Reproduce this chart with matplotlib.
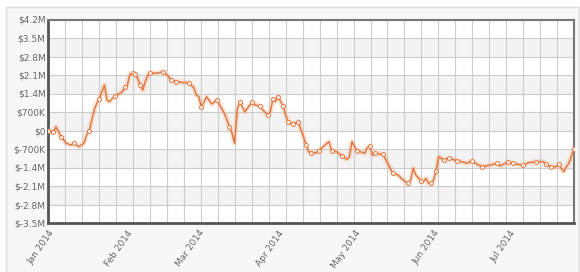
import matplotlib
matplotlib.use("Agg")
import matplotlib.pyplot as plt
import matplotlib.dates as mdates
from matplotlib.patches import Rectangle
import numpy as np
import pandas as pd

# ---- data (values in $M) ----
dates = ["2014-01-01", "2014-01-03", "2014-01-04", "2014-01-06", "2014-01-08", "2014-01-10",
         "2014-01-11", "2014-01-13", "2014-01-15", "2014-01-16", "2014-01-17", "2014-01-19",
         "2014-01-20", "2014-01-21", "2014-01-22", "2014-01-23", "2014-01-24", "2014-01-25",
         "2014-01-27", "2014-01-28", "2014-01-30", "2014-01-31", "2014-02-01", "2014-02-02",
         "2014-02-03", "2014-02-04", "2014-02-05", "2014-02-06", "2014-02-07", "2014-02-08",
         "2014-02-09", "2014-02-10", "2014-02-12", "2014-02-15", "2014-02-17", "2014-02-18",
         "2014-02-20", "2014-02-23", "2014-02-25", "2014-02-27", "2014-02-28", "2014-03-01",
         "2014-03-02", "2014-03-04", "2014-03-05", "2014-03-06", "2014-03-08", "2014-03-09",
         "2014-03-11", "2014-03-13", "2014-03-14", "2014-03-15", "2014-03-16", "2014-03-17",
         "2014-03-18", "2014-03-19", "2014-03-21", "2014-03-22", "2014-03-23", "2014-03-25",
         "2014-03-26", "2014-03-28", "2014-03-29", "2014-03-30", "2014-03-31", "2014-04-01",
         "2014-04-03", "2014-04-04", "2014-04-05", "2014-04-07", "2014-04-09", "2014-04-10",
         "2014-04-11", "2014-04-12", "2014-04-13", "2014-04-14", "2014-04-16", "2014-04-17",
         "2014-04-19", "2014-04-21", "2014-04-22", "2014-04-24", "2014-04-26", "2014-04-28",
         "2014-04-29", "2014-04-30", "2014-05-01", "2014-05-02", "2014-05-03", "2014-05-05",
         "2014-05-06", "2014-05-07", "2014-05-08", "2014-05-09", "2014-05-12", "2014-05-13",
         "2014-05-14", "2014-05-16", "2014-05-18", "2014-05-20", "2014-05-22", "2014-05-23",
         "2014-05-24", "2014-05-25", "2014-05-27", "2014-05-28", "2014-05-29", "2014-05-30",
         "2014-05-31", "2014-06-01", "2014-06-02", "2014-06-03", "2014-06-05", "2014-06-07",
         "2014-06-10", "2014-06-12", "2014-06-14", "2014-06-16", "2014-06-18", "2014-06-20",
         "2014-06-23", "2014-06-26", "2014-06-27", "2014-06-30", "2014-07-02", "2014-07-04",
         "2014-07-06", "2014-07-08", "2014-07-11", "2014-07-14", "2014-07-15", "2014-07-17",
         "2014-07-19", "2014-07-20", "2014-07-21", "2014-07-22", "2014-07-23", "2014-07-24",
         "2014-07-26"]

values = [0.00, -0.05, 0.14, -0.23, -0.48, -0.55,
          -0.48, -0.61, -0.48, -0.17, -0.02, 0.78,
          1.03, 1.18, 1.47, 1.72, 1.15, 1.09,
          1.31, 1.34, 1.47, 1.63, 1.72, 2.14,
          2.16, 2.14, 1.98, 1.72, 1.53, 1.85,
          2.10, 2.19, 2.16, 2.22, 2.06, 1.91,
          1.85, 1.81, 1.81, 1.63, 1.34, 1.28,
          0.88, 1.28, 1.15, 1.00, 1.15, 1.00,
          0.65, 0.14, -0.11, -0.48, 0.78, 1.09,
          0.90, 0.71, 0.96, 1.09, 0.96, 0.93,
          0.78, 0.59, 0.71, 1.18, 1.09, 1.28,
          0.93, 0.59, 0.33, 0.25, 0.33, 0.02,
          -0.23, -0.55, -0.80, -0.84, -0.84, -0.76,
          -0.59, -0.42, -0.76, -0.80, -0.96, -1.09,
          -0.99, -0.42, -0.61, -0.76, -0.80, -0.86,
          -0.65, -0.58, -0.93, -0.86, -0.90, -1.05,
          -1.24, -1.62, -1.68, -1.87, -2.00, -1.87,
          -1.43, -1.68, -1.90, -1.94, -1.81, -2.00,
          -2.00, -1.87, -1.52, -0.99, -1.12, -1.05,
          -1.14, -1.18, -1.24, -1.15, -1.28, -1.37,
          -1.31, -1.24, -1.34, -1.20, -1.24, -1.28,
          -1.32, -1.22, -1.18, -1.18, -1.28, -1.37,
          -1.37, -1.28, -1.43, -1.56, -1.37, -1.24,
          -0.70]

marked = [1, 1, 0, 1, 0, 0,
          1, 0, 0, 0, 1, 0,
          0, 1, 0, 0, 0, 0,
          1, 0, 0, 1, 0, 0,
          1, 1, 0, 1, 0, 0,
          0, 1, 0, 1, 0, 1,
          1, 0, 1, 0, 0, 0,
          1, 0, 0, 0, 1, 0,
          0, 1, 0, 0, 0, 1,
          0, 0, 0, 1, 0, 1,
          0, 1, 0, 1, 0, 1,
          1, 0, 1, 1, 1, 0,
          0, 1, 0, 1, 0, 1,
          0, 0, 1, 0, 1, 0,
          0, 0, 0, 1, 0, 0,
          0, 1, 0, 1, 1, 0,
          0, 1, 0, 0, 1, 0,
          0, 0, 1, 0, 0, 0,
          1, 0, 1, 0, 1, 1,
          1, 0, 0, 1, 0, 1,
          0, 1, 0, 1, 1, 0,
          1, 0, 1, 0, 1, 1,
          0, 1, 0, 0, 0, 0,
          1]

y_ticks = [4.2, 3.5, 2.8, 2.1, 1.4, 0.7, 0.0, -0.7, -1.4, -2.1, -2.8, -3.5]
y_labels = ["$4.2M", "$3.5M", "$2.8M", "$2.1M", "$1.4M", "$700K", "$0",
            "$-700K", "$-1.4M", "$-2.1M", "$-2.8M", "$-3.5M"]
x_start, x_end = "2014-01-01", "2014-07-26"
month_ticks = ["2014-01-01", "2014-02-01", "2014-03-01", "2014-04-01",
               "2014-05-01", "2014-06-01", "2014-07-01"]
month_labels = ["Jan 2014", "Feb 2014", "Mar 2014", "Apr 2014",
                "May 2014", "Jun 2014", "Jul 2014"]

# ---- figure ----
fig = plt.figure(figsize=(5.8, 2.72), dpi=100, facecolor="white")
bg = Rectangle((6 / 580, -0.05), 573 / 580, 1.05 - 7 / 272,
               transform=fig.transFigure, facecolor="#f7f7f7",
               edgecolor="#dcdcdc", lw=1.0, zorder=-10)
fig.add_artist(bg)

ax = fig.add_axes([48.3 / 580, 1 - 223 / 272, (574 - 48.3) / 580, (223 - 19.5) / 272])
ax.set_zorder(1)
ax.set_facecolor("white")

x = pd.to_datetime(dates)
xs = mdates.date2num(pd.to_datetime(x_start))
xe = mdates.date2num(pd.to_datetime(x_end))
ax.set_xlim(xs, xe)
ax.set_ylim(y_ticks[-1], y_ticks[0])

# alternating bands
for i in range(1, len(y_ticks) - 1, 2):
    ax.axhspan(y_ticks[i + 1], y_ticks[i], color="#f3f3f3", lw=0, zorder=0)

# grid
ax.set_yticks(y_ticks)
ax.set_yticklabels(y_labels)
ax.set_xticks(mdates.date2num(pd.to_datetime(month_ticks)))
ax.set_xticklabels(month_labels, rotation=55, ha="right", va="top",
                   rotation_mode="anchor")
ax.set_xticks(np.linspace(xs, xe, 32), minor=True)
ax.grid(False)
ax.grid(True, which="minor", axis="x", color="#cccccc", lw=0.8, zorder=1)
ax.grid(True, which="major", axis="y", color="#cccccc", lw=0.8, zorder=1)
ax.set_axisbelow(True)
ax.tick_params(axis="both", which="both", length=0, labelsize=6.5, labelcolor="#666666")
ax.tick_params(axis="y", pad=2)
ax.tick_params(axis="x", pad=4)

for s in ["top", "right"]:
    ax.spines[s].set_color("#777777")
    ax.spines[s].set_linewidth(1.5)
for s in ["left", "bottom"]:
    ax.spines[s].set_color("#555555")
    ax.spines[s].set_linewidth(2.0)

# line with glow
ax.plot(x, values, color="#f3b08a", lw=4.0, alpha=0.3, solid_joinstyle="round", zorder=3)
ax.plot(x, values, color="#e2763e", lw=1.1, solid_joinstyle="round", zorder=4,
        marker="o", markersize=2.8, markerfacecolor="white", markeredgecolor="#e2763e",
        markeredgewidth=0.7, markevery=[bool(m) for m in marked])

fig.savefig("out.png", dpi=100, facecolor=fig.get_facecolor())
